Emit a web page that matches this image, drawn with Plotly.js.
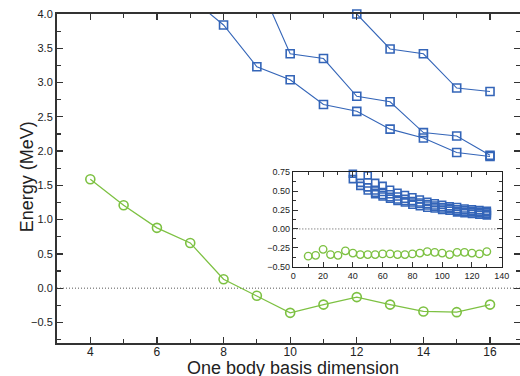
<!DOCTYPE html>
<html><head><meta charset="utf-8">
<script src="https://cdn.plot.ly/plotly-3.0.1.min.js"></script>
<style>html,body{margin:0;padding:0;background:#fff}#g{width:520px;height:376px}</style>
</head><body><div id="g"></div>
<script>
// Main plot data
const mainGreenX = [4,5,6,7,8,9,10,11,12,13,14,15,16];
const mainGreenY = [1.59,1.21,0.88,0.66,0.13,-0.11,-0.36,-0.24,-0.13,-0.24,-0.34,-0.35,-0.24];
const blueAX = [7,8,9,10,11,12,13,14,15,16];
const blueAY = [4.24,3.84,3.23,3.04,2.68,2.58,2.32,2.19,1.98,1.92];
const blueBX = [9,10,11,12,13,14,15,16];
const blueBY = [4.52,3.42,3.35,2.80,2.72,2.27,2.22,1.94];
const blueCX = [12,13,14,15,16];
const blueCY = [4.0,3.49,3.42,2.92,2.87];
const mainXTicks = [4,6,8,10,12,14,16];
const xTitle = 'One body basis dimension';
const yTitle = 'Energy (MeV)';
// Inset data
const insetGreenX = [10,15,20,25,30,35,40,45,50,55,60,65,70,75,80,85,90,95,100,105,110,115,120,125,130];
const insetGreenY = [-0.36,-0.35,-0.27,-0.34,-0.35,-0.29,-0.32,-0.34,-0.34,-0.34,-0.33,-0.33,-0.34,-0.34,-0.33,-0.32,-0.30,-0.31,-0.32,-0.34,-0.31,-0.31,-0.32,-0.33,-0.30];
const inS1X = [50,55,60,65,70,75,80,85,90,95,100,105,110,115,120,125,130];
const inS1Y = [0.71,0.61,0.57,0.52,0.48,0.45,0.42,0.39,0.36,0.34,0.32,0.30,0.29,0.27,0.26,0.25,0.24];
const inS2X = [40,45,50,55,60,65,70,75,80,85,90,95,100,105,110,115,120,125,130];
const inS2Y = [0.73,0.61,0.55,0.51,0.49,0.46,0.43,0.40,0.37,0.35,0.33,0.31,0.29,0.28,0.26,0.25,0.24,0.23,0.22];
const inS3X = [40,45,50,55,60,65,70,75,80,85,90,95,100,105,110,115,120,125,130];
const inS3Y = [0.66,0.57,0.51,0.48,0.45,0.42,0.39,0.37,0.35,0.33,0.31,0.29,0.27,0.26,0.24,0.23,0.22,0.21,0.20];
const inS4X = [55,60,65,70,75,80,85,90,95,100,105,110,115,120,125,130];
const inS4Y = [0.46,0.43,0.40,0.37,0.35,0.32,0.30,0.28,0.27,0.25,0.24,0.22,0.21,0.20,0.19,0.18];

const BLUE = '#3465b8';
const GREEN = '#7dc142';
const FONT = 'Liberation Sans, Arial, sans-serif';

function blueLine(x, y, clip) {
  return {x, y, type:'scatter', mode:'lines+markers', cliponaxis: clip,
    line:{color:BLUE, width:1.1},
    marker:{symbol:'square-open', size:8, color:BLUE, line:{width:1.6, color:BLUE}},
    xaxis:'x', yaxis:'y', showlegend:false};
}
function blueInset(x, y) {
  return {x, y, type:'scatter', mode:'markers', cliponaxis:false,
    marker:{symbol:'square-open', size:7, color:BLUE, line:{width:1.6, color:BLUE}},
    xaxis:'x2', yaxis:'y2', showlegend:false};
}

const traces = [
  blueLine(blueAX, blueAY, true),
  blueLine(blueBX, blueBY, true),
  blueLine(blueCX, blueCY, false),
  {x:mainGreenX, y:mainGreenY, type:'scatter', mode:'lines+markers', cliponaxis:false,
   line:{color:GREEN, width:1.3},
   marker:{symbol:'circle-open', size:9, color:GREEN, line:{width:1.6, color:GREEN}},
   xaxis:'x', yaxis:'y', showlegend:false},
  blueInset(inS1X, inS1Y), blueInset(inS2X, inS2Y), blueInset(inS3X, inS3Y), blueInset(inS4X, inS4Y),
  {x:insetGreenX, y:insetGreenY, type:'scatter', mode:'markers', cliponaxis:false,
   marker:{symbol:'circle-open', size:7.5, color:GREEN, line:{width:1.4, color:GREEN}},
   xaxis:'x2', yaxis:'y2', showlegend:false}
];

const layout = {
  width:520, height:376,
  margin:{l:57, r:0, t:14, b:33},
  paper_bgcolor:'#fff', plot_bgcolor:'#fff',
  font:{family:FONT, color:'#222'},
  showlegend:false,
  xaxis:{range:[3,16.9], tickvals:mainXTicks, ticks:'inside', ticklen:6, tickwidth:1.3, tickcolor:'#333',
    ticklabelstandoff:-3,
    minor:{dtick:1, tick0:3, ticks:'inside', ticklen:4, tickwidth:1.1, tickcolor:'#333'},
    showline:true, linecolor:'#333', linewidth:2, mirror:'ticks', showgrid:false, zeroline:false,
    tickfont:{size:12, color:'#222'}},
  yaxis:{range:[-0.8,4.0], dtick:0.5, tick0:0, tickformat:'.1f', ticks:'inside', ticklen:6, tickwidth:1.3, tickcolor:'#333',
    minor:{dtick:0.25, ticks:'inside', ticklen:4, tickwidth:1.1, tickcolor:'#333'},
    showline:true, linecolor:'#333', linewidth:2, mirror:'ticks', showgrid:false, zeroline:false,
    tickfont:{size:11, color:'#222'}},
  xaxis2:{domain:[0.5104,0.9605], anchor:'y2', range:[0,140], dtick:20, ticks:'inside', ticklen:5, tickwidth:1.1, tickcolor:'#333',
    minor:{dtick:10, ticks:'inside', ticklen:3, tickwidth:1, tickcolor:'#333'},
    showline:true, linecolor:'#222', linewidth:1.6, mirror:'ticks', showgrid:false, zeroline:false,
    tickfont:{size:9, color:'#222'}},
  yaxis2:{domain:[0.2319,0.5188], anchor:'x2', range:[-0.5,0.75], dtick:0.25, tick0:0, tickformat:'.2f', ticks:'inside', ticklen:5, tickwidth:1.1, tickcolor:'#333',
    minor:{dtick:0.125, ticks:'inside', ticklen:3, tickwidth:1, tickcolor:'#333'},
    showline:true, linecolor:'#222', linewidth:1.6, mirror:'ticks', showgrid:false, zeroline:false,
    tickfont:{size:9, color:'#222'}},
  annotations:[
    {text:xTitle, xref:'paper', yref:'paper', x:0.51, y:-0.077, xanchor:'center', yanchor:'middle',
     showarrow:false, font:{size:18, color:'#222'}},
    {text:yTitle, xref:'paper', yref:'paper', x:-0.066, y:0.505, xanchor:'center', yanchor:'middle',
     textangle:-90, showarrow:false, font:{size:18, color:'#222'}}
  ],
  shapes:[
    {type:'line', xref:'x', yref:'y', x0:3, x1:16.9, y0:0, y1:0, line:{color:'#555', width:1, dash:'1px,2px'}, layer:'below'},
    {type:'line', xref:'x2', yref:'y2', x0:0, x1:140, y0:0, y1:0, line:{color:'#555', width:1, dash:'1px,2px'}}
  ]
};

Plotly.newPlot('g', traces, layout, {staticPlot:true, displayModeBar:false});
</script>
</body></html>
